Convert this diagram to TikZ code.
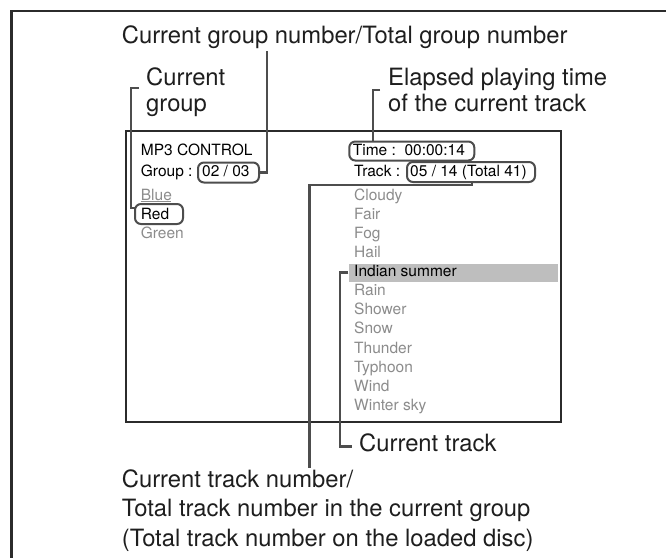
\documentclass[tikz,border=0pt]{standalone}
\usepackage{fontspec}
\setmainfont{TeX Gyre Heros}
\definecolor{framec}{HTML}{2B2B2B}
\definecolor{leadc}{HTML}{4D4D4D}
\definecolor{labelc}{HTML}{1E1E1E}
\definecolor{listgray}{HTML}{8C8C8C}
\definecolor{hlgray}{HTML}{BEBEBE}
\begin{document}
\begin{tikzpicture}[x=1pt,y=-1pt,
  lbl/.style={anchor=base west, inner sep=0pt, text=labelc, font=\fontsize{23.8}{28}\selectfont},
  scr/.style={anchor=base west, inner sep=0pt, text=black, font=\fontsize{15.5}{18}\selectfont},
  lst/.style={scr, text=listgray},
  valbox/.style={draw=leadc, line width=2pt, rounded corners=6pt, anchor=north west, inner sep=0pt},
  leader/.style={draw=leadc, line width=2.5pt},
  framestyle/.style={draw=framec, line width=2.7pt}
]
\useasboundingbox (0,0) rectangle (666,558);
\fill[white] (0,0) rectangle (666,558);

% outer frame (top and left)
\coordinate (frR) at (666,11);
\coordinate (frC) at (11.7,11);
\coordinate (frB) at (11.7,558);
\draw[framestyle] (frR) -- (frC) -- (frB);

% screen
\node[draw=framec, line width=1.5pt, minimum width=435pt, minimum height=291pt, anchor=north west, inner sep=0pt] (screen) at (125,130) {};
\node[fill=hlgray, minimum width=209.4pt, minimum height=18.4pt, anchor=north west, inner sep=0pt] (hlbar) at (348.3,263.3) {};

% screen texts
\node[scr] (mp3) at (140.7,155) {MP3 CONTROL};
\node[scr] (grplbl) at (140.7,176) {Group :};
\node[scr] (grpval) at (202,176) {02 / 03};
\node[scr] (timetxt) at (352.7,155.5) {Time :~~00:00:14};
\node[scr] (trklbl) at (354,176) {Track :};
\node[scr] (trkval) at (410,176) {05 / 14 (Total 41)};

\node[valbox, minimum width=61pt, minimum height=20pt] (grpbox) at (197,161.5) {};
\node[valbox, minimum width=125pt, minimum height=19pt] (timebox) at (348.3,140.5) {};
\node[valbox, minimum width=128pt, minimum height=20pt] (trkbox) at (406,161) {};
\node[valbox, minimum width=48pt, minimum height=20pt] (redbox) at (134,203) {};

\node[lst] (blue) at (140.7,200.5) {Blue};
\draw[listgray, line width=0.8pt] (blue.base west) ++(0,1.3) -- ++(30.5,0);
\node[scr] (red) at (140.7,219.5) {Red};
\node[lst] (green) at (140.7,238.5) {Green};

\node[lst] (t1) at (354,200.7) {Cloudy};
\node[lst] (t2) at (354,219.7) {Fair};
\node[lst] (t3) at (354,238.8) {Fog};
\node[lst] (t4) at (354,257.8) {Hail};
\node[scr] (t5) at (354,276.8) {Indian summer};
\node[lst] (t6) at (354,295.9) {Rain};
\node[lst] (t7) at (354,314.9) {Shower};
\node[lst] (t8) at (354,333.9) {Snow};
\node[lst] (t9) at (354,353.0) {Thunder};
\node[lst] (t10) at (354,372.0) {Typhoon};
\node[lst] (t11) at (354,391.0) {Wind};
\node[lst] (t12) at (354,410.0) {Winter sky};

% labels
\node[lbl] (title) at (121.7,43.3) {Current group number/Total group number};
\node[lbl] (cg1) at (146,85.5) {Current};
\node[lbl] (cg2) at (146,111) {group};
\node[lbl] (el1) at (388,85.5) {Elapsed playing time};
\node[lbl] (el2) at (388,111.5) {of the current track};
\node[lbl] (ct) at (359,451) {Current track};
\node[lbl] (bn1) at (121.7,487) {Current track number/};
\node[lbl] (bn2) at (121.7,516.5) {Total track number in the current group};
\node[lbl] (bn3) at (121.7,546) {(Total track number on the loaded disc)};

% leaders
\coordinate (cgTick) at (139,88);
\coordinate (cgCorner) at (131,88);
\coordinate (cgLow) at (131,208);
\coordinate (cgEnd) at (135,208);
\draw[leader] (cgTick) -- (cgCorner) -- (cgLow) -- (cgEnd);

\coordinate (titleFoot) at (267,51);
\draw[leader] (titleFoot) |- (grpbox.east);

\coordinate (elTick) at (380,90);
\coordinate (elCorner) at (373,90);
\draw[leader] (elTick) -- (elCorner) -- (elCorner |- timebox.north);

\coordinate (trkBend) at (472,185);
\coordinate (trkFoot) at (309.3,468);
\draw[leader] (trkbox.south -| trkBend) -- (trkBend) -| (trkFoot);

\coordinate (ctEnd) at (351.7,446.7);
\draw[leader] (hlbar.west) -- ++(-8.3,0) |- (ctEnd);
\end{tikzpicture}
\end{document}
